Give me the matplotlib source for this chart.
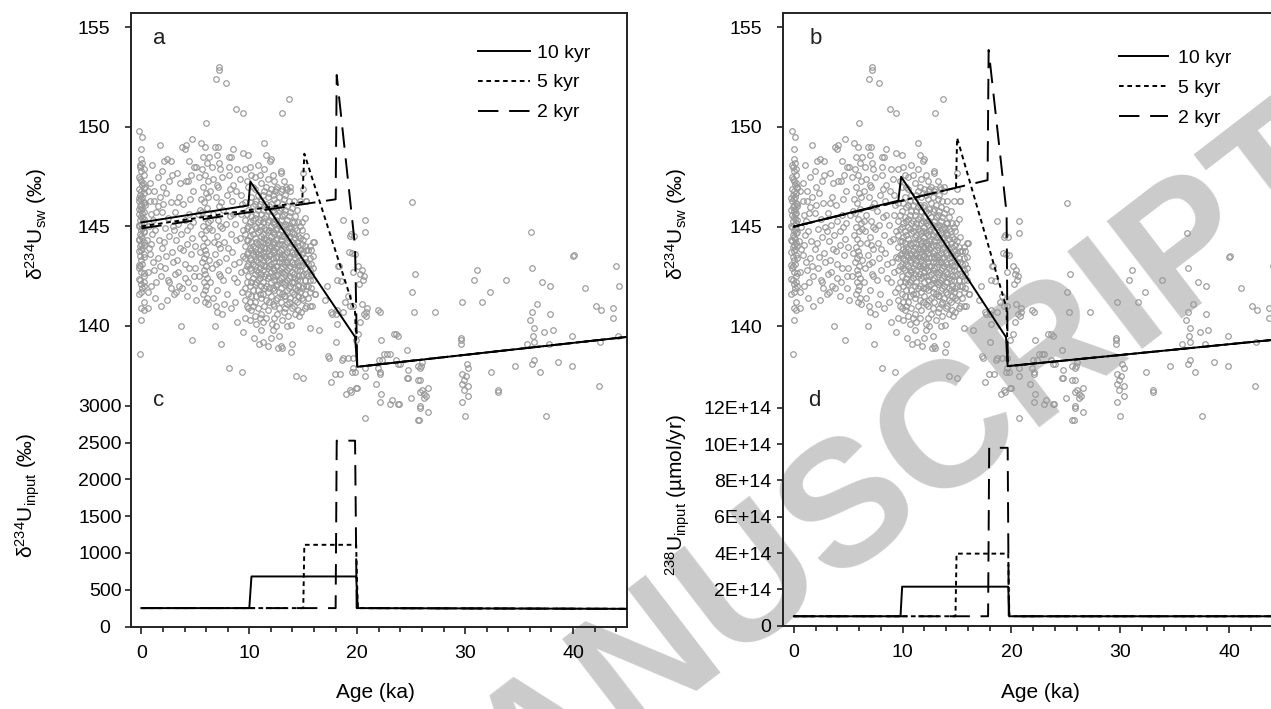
import matplotlib
matplotlib.use('Agg')
import matplotlib.pyplot as plt
from matplotlib.ticker import FixedLocator, MultipleLocator, FuncFormatter

plt.rcParams['font.family'] = ['Liberation Sans', 'DejaVu Sans']
plt.rcParams['mathtext.fontset'] = 'custom'
plt.rcParams['mathtext.rm'] = 'Liberation Sans'
plt.rcParams['mathtext.it'] = 'Liberation Sans:italic'

W, H = 1271, 709

# ---------------- data: measured d234U seawater (age ka, d234U permil) ----------------
pts_col0 = [(-0.2,149.8),(0.1,149.5),(0.0,148.9),(0.0,148.4),(0.1,148.2),(-0.1,148.0),(0.0,147.8),(0.2,147.6),
            (-0.1,147.4),(0.0,147.3),(0.1,147.1),(-0.2,146.9),(0.0,146.8),(0.2,146.7),(-0.1,146.6),(0.1,146.5),
            (0.0,146.4),(-0.2,146.3),(0.2,146.2),(0.0,146.1),(-0.1,146.0),(0.1,145.9),(0.0,145.8),(0.2,145.7),
            (-0.2,145.6),(0.0,145.5),(0.1,145.4),(-0.1,145.3),(0.2,145.2),(0.0,145.1),(-0.2,145.0),(0.1,144.9),
            (0.0,144.8),(0.2,144.7),(-0.1,144.6),(0.0,144.5),(0.1,144.4),(-0.2,144.3),(0.2,144.2),(0.0,144.1),
            (-0.1,144.0),(0.1,143.9),(0.0,143.8),(0.2,143.6),(-0.1,143.5),(0.0,143.3),(0.1,143.1),(-0.2,142.9),
            (0.0,142.7),(0.2,142.5),(-0.1,142.3),(0.0,142.1),(0.1,141.9),(0.0,141.7),(0.2,141.2),(0.0,140.9),
            (0.6,140.9),(0.2,140.8),(0.0,140.3),(-0.1,138.6),(0.6,141.7),(0.2,142.2),(-0.1,143.0),(0.1,145.65),
            (0.3,146.05),(0.3,147.0),(0.25,146.95),(-0.25,146.45),(0.25,146.15),(-0.25,145.85),(0.25,145.35),
            (-0.25,145.05),(0.25,144.75),(-0.25,144.35),(0.25,144.05),(-0.25,143.75),(0.25,143.45),
            (-0.25,143.05),(0.25,142.65),(-0.25,142.35),(0.25,142.0),(-0.25,141.6),(0.2,147.9),(-0.2,147.5),
            (0.15,147.2),(-0.15,148.1)]
pts_early = [(0.6,146.8),(0.8,147.2),(1.2,146.8),(1.2,146.3),(1.5,146.0),(1.7,149.1),(1.7,146.5),(1.9,145.7),
             (2.0,146.1),(2.1,148.3),(2.4,148.4),(2.75,148.3),(2.8,147.6),(2.5,145.4),(3.1,145.7),(3.3,146.2),
             (3.5,146.5),(3.8,149.0),(4.1,149.1),(4.0,148.9),(4.7,149.4),(4.3,147.3),(4.6,147.6),(4.9,148.0),
             (5.1,148.0),(0.7,145.0),(1.0,144.6),(1.3,144.8),(0.9,144.1),(1.6,144.3),(2.2,144.9),(2.6,144.5),
             (3.0,144.8),(3.4,145.1),(3.7,144.6),(4.0,145.3),(4.4,145.6),(4.8,145.2),(0.8,143.6),(1.1,143.2),
             (1.5,143.4),(1.9,143.9),(2.3,143.5),(2.8,143.7),(3.3,143.3),(3.9,143.8),(4.2,144.1),(4.6,143.6),
             (5.0,144.0),(0.6,142.7),(1.2,142.8),(1.8,142.5),(2.5,142.3),(2.6,142.2),(3.1,142.6),(3.5,142.0),
             (4.0,142.4),(4.4,142.9),(4.9,142.5),(1.3,141.4),(2.4,141.3),(3.0,141.6),(3.2,141.7),(4.2,141.5),
             (4.9,141.9),(5.1,141.3),(3.7,140.0),(4.7,139.3),(1.5,147.5),(2.0,147.0),(3.6,147.2),(4.1,147.3),
             (2.3,146.7),(3.9,146.1),(4.5,146.4),(0.9,145.6),(2.9,145.0),(4.2,144.8),
             (0.5,144.3),(0.7,143.9),(0.9,142.0),(1.1,145.3),(1.4,145.7),(1.4,142.2),(1.7,143.0),(1.8,141.0),
             (2.1,144.2),(2.2,142.9),(2.7,146.2),(2.7,141.9),(2.9,143.2),(3.2,144.3),(3.4,142.7),(3.6,143.9),
             (3.8,141.9),(4.0,143.1),(4.3,142.2),(4.5,145.0),(4.7,144.4),(4.8,146.8),(5.0,142.9),(5.2,145.6),
             (1.0,148.1),(0.8,146.3),(2.6,147.3),(3.3,147.7),(4.4,148.3),(1.9,147.8)]
pts_col6 = [(5.5,149.2),(5.9,148.97),(5.7,148.5),(6.1,148.2),(5.6,147.9),(5.9,147.6),(6.2,147.3),(5.7,147.0),
            (6.0,146.7),(5.5,146.4),(5.8,146.2),(6.1,145.9),(5.6,145.7),(5.9,145.4),(6.2,145.2),(5.7,145.0),
            (6.0,144.8),(5.5,144.6),(5.8,144.4),(6.1,144.2),(5.7,144.0),(5.9,143.8),(6.0,143.6),(5.8,143.4),
            (5.6,143.2),(6.0,143.0),(5.8,142.8),(5.9,142.6),(6.1,142.4),(5.8,142.2),(6.0,142.0),(5.9,141.8),
            (5.7,141.6),(6.1,141.4),(5.9,141.2),(6.2,141.1),(5.4,145.8),(6.3,144.9),(5.4,143.7),(6.3,143.3),
            (5.3,142.5),(6.2,146.5),(5.3,147.5)]
pts_mid = [(7.2,153.0),(7.2,152.85),(6.9,152.4),(7.8,152.2),(8.8,150.9),(9.4,150.7),(6.0,150.2),
           (6.8,149.0),(6.3,148.5),(7.0,148.6),(8.1,148.5),(8.3,148.5),(9.4,148.7),(6.5,148.0),(7.3,147.9),
           (8.1,148.0),(8.9,147.9),(8.1,147.6),(6.6,147.4),(7.0,147.1),(7.5,147.5),(8.5,147.1),(9.1,147.4),
           (6.4,146.8),(6.9,146.5),(7.4,146.2),(7.9,146.6),(8.4,146.3),(8.8,146.8),(9.3,146.1),(6.6,145.6),
           (7.1,145.3),(7.6,145.8),(8.2,145.5),(8.7,145.1),(9.2,145.6),(6.5,144.8),(7.0,144.5),(7.7,144.2),
           (8.3,144.6),(8.8,144.3),(9.4,144.8),(6.8,143.6),(7.3,143.9),(7.8,143.4),(8.4,143.7),(9.0,143.2),
           (6.5,142.9),(7.2,142.6),(7.6,142.3),(8.0,142.8),(8.6,142.4),(9.2,142.7),(6.6,141.4),(7.0,141.8),
           (7.9,141.6),(8.7,141.2),(9.3,141.7),(6.8,140.0),(7.4,139.1),(8.1,137.9),(9.3,137.7),(6.9,141.0),
           (7.5,140.6),(7.1,149.0),(7.2,148.2),(7.1,147.0),(7.2,146.0),(7.3,145.0),(7.1,144.1),(7.2,143.2),
           (7.3,142.5),(6.4,145.3),(6.7,144.2),(6.9,143.1),(7.5,144.9),(7.8,145.1),(8.0,143.9),(8.2,146.9),
           (8.5,145.6),(8.6,143.1),(8.9,142.2),(9.1,144.4),(9.2,146.6),(9.4,143.5),(6.4,142.2),(7.0,140.7),
           (7.7,141.1),(8.3,140.9),(8.9,140.2),(9.4,139.7),(8.5,148.9)]
pts_cloud = [
    (9.6,147.9),(9.6,146.2),(9.6,145.3),(9.6,144.6),(9.6,144.0),(9.6,143.4),(9.6,142.8),(9.6,141.9),(9.6,141.3),(9.6,140.4),
    (9.9,148.6),(9.9,147.0),(9.9,145.8),(9.9,145.0),(9.9,144.3),(9.9,143.7),(9.9,143.1),(9.9,142.5),(9.9,141.6),(9.9,140.9),
    (10.2,147.6),(10.2,146.5),(10.2,145.5),(10.2,144.8),(10.2,144.2),(10.2,143.8),(10.2,143.3),(10.2,142.8),(10.2,142.2),
    (10.2,141.5),(10.2,140.8),(10.4,139.4),
    (10.5,147.5),(10.5,146.9),(10.5,146.1),(10.5,145.4),(10.5,145.0),(10.5,144.4),(10.5,143.9),(10.5,143.5),(10.5,143.0),
    (10.5,142.6),(10.5,142.1),(10.5,141.2),(10.5,140.5),
    (10.8,148.1),(10.8,146.6),(10.8,145.8),(10.8,145.2),(10.8,144.7),(10.8,144.1),(10.8,143.6),(10.8,143.2),(10.8,142.7),
    (10.8,142.3),(10.8,141.8),(10.8,140.9),(10.9,139.1),
    (11.1,147.2),(11.1,146.3),(11.1,145.6),(11.1,145.0),(11.1,144.5),(11.1,144.0),(11.1,143.6),(11.1,143.1),(11.1,142.6),
    (11.1,142.0),(11.1,141.4),(11.1,140.6),(11.1,139.8),
    (11.4,149.2),(11.4,147.9),(11.4,146.8),(11.4,146.0),(11.4,145.4),(11.4,144.9),(11.4,144.4),(11.4,143.9),(11.4,143.5),
    (11.4,143.0),(11.4,142.5),(11.4,141.9),(11.4,141.0),(11.3,139.2),
    (11.7,147.4),(11.7,146.5),(11.7,145.8),(11.7,145.2),(11.7,144.7),(11.7,144.2),(11.7,143.8),(11.7,143.3),(11.7,142.9),
    (11.7,142.4),(11.7,141.7),(11.7,140.8),(11.75,139.0),
    (12.0,148.4),(11.9,148.3),(12.0,146.9),(12.0,146.1),(12.0,145.5),(12.0,145.0),(12.0,144.5),(12.0,144.0),(12.0,143.6),
    (12.0,143.1),(12.0,142.7),(12.0,142.2),(12.0,141.5),(12.1,140.1),(12.0,139.4),
    (12.3,147.3),(12.3,146.4),(12.3,145.7),(12.3,145.1),(12.3,144.6),(12.3,144.1),(12.3,143.7),(12.3,143.2),(12.3,142.8),
    (12.3,142.3),(12.3,141.8),(12.3,141.0),(12.3,140.4),
    (12.6,147.0),(12.6,146.2),(12.6,145.5),(12.6,144.9),(12.6,144.4),(12.6,144.0),(12.6,143.5),(12.6,143.0),(12.6,142.6),
    (12.6,142.1),(12.6,141.4),(12.6,140.6),(12.7,138.9),
    (12.9,147.8),(12.9,146.8),(12.9,145.9),(12.9,145.3),(12.9,144.8),(12.9,144.3),(12.9,143.8),(12.9,143.4),(12.9,142.9),
    (12.9,142.4),(12.9,141.9),(12.9,141.2),(12.9,139.0),
    (13.2,147.3),(13.2,146.4),(13.2,145.6),(13.2,145.0),(13.2,144.5),(13.2,144.0),(13.2,143.5),(13.2,143.1),(13.2,142.6),
    (13.2,142.1),(13.2,141.5),(13.2,140.7),(13.0,138.9),
    (13.5,146.9),(13.5,146.0),(13.5,145.3),(13.5,144.7),(13.5,144.2),(13.5,143.7),(13.5,143.2),(13.5,142.8),(13.5,142.3),
    (13.5,141.8),(13.5,141.1),(13.6,140.5),(13.5,140.0),
    (13.8,147.0),(13.8,145.7),(13.8,145.0),(13.8,144.5),(13.8,144.0),(13.8,143.5),(13.8,143.0),(13.8,142.5),(13.8,142.0),
    (13.8,141.4),(13.9,140.05),(13.9,138.7),
    (14.1,146.3),(14.1,145.2),(14.1,144.6),(14.1,144.1),(14.1,143.6),(14.1,143.1),(14.1,142.6),(14.1,142.2),(14.1,141.6),
    (14.1,141.0),(14.0,139.1),
    (14.4,145.8),(14.4,144.8),(14.4,144.2),(14.4,143.7),(14.4,143.2),(14.4,142.8),(14.4,142.3),(14.4,141.8),(14.4,141.2),
    (14.6,140.5),
    (14.7,146.3),(14.7,145.0),(14.7,144.4),(14.7,143.8),(14.7,143.3),(14.7,142.8),(14.7,142.3),(14.7,141.7),(14.8,140.7),
    (15.0,147.7),(15.0,146.9),(14.9,145.2),(15.0,144.3),(15.0,143.7),(15.0,143.2),(15.0,142.6),(15.0,142.0),(15.0,141.3),
    (15.3,146.3),(15.3,144.5),(15.3,143.8),(15.3,143.2),(15.3,142.6),(15.3,142.0),(15.3,141.0),
    (15.6,144.0),(15.6,143.4),(15.6,142.8),(15.6,142.3),(15.6,141.7),(15.6,141.0),(15.6,139.9),
    (15.9,144.2),(15.9,143.5),(15.9,142.9),(15.9,142.3),(15.8,141.0),(16.1,141.6),
    (12.9,147.7),(13.0,150.7),(13.7,151.4),(12.4,146.8),(13.0,146.9),(13.4,147.0),(13.8,146.8),(15.3,146.3),(13.9,144.9)]
pts_cloud2 = [
    (9.75,147.3),(9.75,145.6),(9.75,144.9),(9.75,144.3),(9.75,143.6),(9.75,143.0),(9.75,142.2),(9.75,141.0),
    (10.05,148.0),(10.05,146.2),(10.05,145.2),(10.05,144.5),(10.05,143.9),(10.05,143.4),(10.05,142.9),(10.05,142.0),
    (10.05,141.2),(10.05,140.3),
    (10.35,147.0),(10.35,146.0),(10.35,145.3),(10.35,144.6),(10.35,144.0),(10.35,143.6),(10.35,143.1),(10.35,142.4),
    (10.35,141.8),(10.35,141.0),
    (10.65,146.3),(10.65,145.6),(10.65,144.9),(10.65,144.2),(10.65,143.7),(10.65,143.3),(10.65,142.8),(10.65,142.2),
    (10.65,141.5),(10.65,140.1),
    (10.95,147.6),(10.95,146.1),(10.95,145.3),(10.95,144.8),(10.95,144.2),(10.95,143.8),(10.95,143.4),(10.95,142.9),
    (10.95,142.4),(10.95,141.6),(10.95,140.4),
    (11.25,146.6),(11.25,145.8),(11.25,145.2),(11.25,144.6),(11.25,144.2),(11.25,143.7),(11.25,143.3),(11.25,142.8),
    (11.25,142.2),(11.25,141.6),(11.25,140.2),
    (11.55,148.6),(11.55,147.0),(11.55,146.1),(11.55,145.5),(11.55,144.8),(11.55,144.3),(11.55,143.9),(11.55,143.4),
    (11.55,143.0),(11.55,142.6),(11.55,142.0),(11.55,141.3),(11.55,140.4),
    (11.85,146.7),(11.85,146.0),(11.85,145.3),(11.85,144.8),(11.85,144.3),(11.85,143.9),(11.85,143.5),(11.85,143.0),
    (11.85,142.5),(11.85,141.9),(11.85,141.2),
    (12.15,147.6),(12.15,146.6),(12.15,145.8),(12.15,145.2),(12.15,144.7),(12.15,144.2),(12.15,143.8),(12.15,143.4),
    (12.15,142.9),(12.15,142.5),(12.15,141.9),(12.15,141.1),(12.15,139.8),
    (12.45,146.9),(12.45,145.9),(12.45,145.3),(12.45,144.8),(12.45,144.3),(12.45,143.9),(12.45,143.4),(12.45,143.0),
    (12.45,142.5),(12.45,142.0),(12.45,141.3),(12.45,140.0),
    (12.75,146.5),(12.75,145.8),(12.75,145.1),(12.75,144.6),(12.75,144.1),(12.75,143.7),(12.75,143.2),(12.75,142.8),
    (12.75,142.3),(12.75,141.7),(12.75,140.9),(12.75,139.5),
    (13.05,146.1),(13.05,145.5),(13.05,145.0),(13.05,144.5),(13.05,144.1),(13.05,143.6),(13.05,143.2),(13.05,142.7),
    (13.05,142.2),(13.05,141.6),(13.05,140.3),
    (13.35,146.6),(13.35,145.8),(13.35,145.1),(13.35,144.6),(13.35,144.1),(13.35,143.6),(13.35,143.2),(13.35,142.7),
    (13.35,142.2),(13.35,141.5),(13.35,140.9),
    (13.65,146.3),(13.65,145.5),(13.65,144.9),(13.65,144.4),(13.65,143.9),(13.65,143.4),(13.65,142.9),(13.65,142.4),
    (13.65,141.9),(13.65,141.2),
    (13.95,145.9),(13.95,145.2),(13.95,144.7),(13.95,144.2),(13.95,143.7),(13.95,143.2),(13.95,142.7),(13.95,142.2),
    (13.95,141.7),(13.95,140.9),
    (14.25,145.5),(14.25,144.9),(14.25,144.4),(14.25,143.9),(14.25,143.4),(14.25,142.9),(14.25,142.4),(14.25,141.9),
    (14.25,141.3),(14.25,140.6),
    (14.55,145.2),(14.55,144.5),(14.55,144.0),(14.55,143.5),(14.55,143.0),(14.55,142.5),(14.55,142.0),(14.55,141.5),
    (14.55,140.8),
    (14.85,144.8),(14.85,144.1),(14.85,143.6),(14.85,143.0),(14.85,142.5),(14.85,141.9),(14.85,141.4),
    (15.15,145.4),(15.15,144.0),(15.15,143.4),(15.15,142.9),(15.15,142.3),(15.15,141.6),(15.15,140.9),
    (15.45,143.8),(15.45,143.1),(15.45,142.5),(15.45,142.0),(15.45,141.4),
    (15.75,143.8),(15.75,143.1),(15.75,142.6),(15.75,141.9)]
pts_deglac = [(16.0,144.2),(17.2,142.0),(18.1,142.3),(18.5,142.26),(18.2,143.0),(18.3,143.0),(18.7,145.3),
              (19.7,144.5),(19.35,144.5),(19.5,143.65),(19.2,143.7),(19.8,143.6),(19.6,142.7),(19.4,144.6),
              (20.1,143.0),(20.3,142.6),(20.5,142.3),(20.4,142.8),(20.6,142.5),(20.7,145.3),(20.7,144.7),
              (20.2,142.1),(17.7,140.6),(18.0,140.6),(18.1,140.8),(18.9,141.2),(19.3,141.0),(19.1,141.5),
              (19.6,141.0),(17.6,140.7),(18.1,140.1),(18.7,140.7),(20.4,141.1),(20.6,140.6),(20.3,140.2),
              (20.1,139.6),(19.9,139.3),(18.0,139.2),(17.3,138.5),(18.6,138.3),(19.1,138.4),(19.6,138.4),
              (19.6,137.9),(19.5,137.7),(18.4,137.6),(17.6,137.2),(17.4,138.4),(18.7,138.4),(19.3,136.8),
              (19.0,136.6),(19.9,136.9),(19.4,136.7),(20.0,136.9),(20.7,135.4),(20.7,137.5),(20.7,137.9),
              (17.0,141.3),(14.3,137.5),(15.0,137.4),(16.5,139.8),(17.9,137.6),(19.8,137.7),(16.1,141.6)]
pts_glacial = [(21.9,137.9),(22.1,137.6),(21.7,137.1),(22.2,136.6),(23.2,136.3),(23.8,136.1),(24.7,137.8),
               (24.7,137.4),(25.0,136.4),(25.8,137.3),(25.8,137.9),(25.8,136.0),(26.2,136.4),(26.4,136.5),
               (26.6,135.7),(25.8,136.7),(20.9,140.9),(20.85,140.7),(20.8,140.5),(22.1,140.7),(22.2,139.3),
               (22.8,138.6),(22.5,138.6),(23.0,138.6),(23.6,139.6),(23.4,139.6),(23.8,139.5),(24.6,138.8),
               (22.0,138.3),(22.3,138.3),(23.6,138.3),(23.8,138.1),(24.0,138.1),(22.1,137.7),(24.6,137.4),
               (25.6,137.3),(25.6,138.0),(22.1,136.2),(23.0,136.1),(23.9,136.1),(25.6,135.3),(25.4,142.6),
               (25.1,141.7),(25.3,140.7),(21.9,140.8),(25.1,146.2),(27.2,140.7),(36.1,144.7),(39.98,143.5),
               (40.05,143.55),(44.0,143.0),(44.3,142.0),(31.1,142.8),(30.8,142.3),(33.8,142.3),(32.3,141.7),
               (31.6,141.2),(29.7,141.2),(36.2,142.9),(37.1,142.2),(37.9,142.0),(41.1,141.9),(36.7,141.1),
               (36.2,140.7),(36.0,140.3),(37.9,140.6),(36.4,139.9),(37.3,139.7),(38.1,139.8),(36.3,139.5),
               (36.4,139.2),(35.7,139.1),(37.8,139.1),(39.9,139.5),(42.1,141.0),(42.6,140.8),(43.7,140.9),
               (43.7,140.4),(42.5,139.2),(29.6,139.3),(29.6,139.1),(29.6,139.4),(26.0,138.2),(25.9,138.0),
               (26.0,136.8),(26.6,136.9),(26.2,136.6),(25.8,135.9),(25.7,135.3),(30.2,138.1),(30.3,137.9),
               (29.7,137.6),(30.1,137.5),(29.9,137.3),(29.7,137.1),(29.9,136.8),(30.3,137.0),(30.3,136.5),
               (29.7,136.2),(30.0,135.5),(32.4,137.7),(33.0,136.8),(33.0,136.7),(34.6,138.0),(36.2,138.1),
               (36.4,138.3),(36.9,137.7),(38.6,138.2),(39.9,138.0),(42.4,137.0),(37.5,135.5),(44.2,139.5)]

groups = (pts_col0, pts_early, pts_col6, pts_mid, pts_cloud, pts_cloud2, pts_deglac, pts_glacial)
obs_age = [p[0] for grp in groups for p in grp]
obs_val = [p[1] for grp in groups for p in grp]

# ---------------- model curves ----------------
a10_x = [0, 9.9, 10.1, 19.8, 20.0, 45]
a10_y = [145.2, 146.05, 147.25, 139.45, 137.95, 139.45]
a5_x = [0, 14.9, 15.1, 19.8, 20.0, 45]
a5_y = [145.0, 146.22, 148.65, 140.7, 137.95, 139.45]
a2_x = [0, 18.0, 18.1, 19.8, 20.0, 45]
a2_y = [144.9, 146.36, 152.6, 144.0, 137.95, 139.45]
b10_x = [0, 9.6, 9.86, 19.5, 19.65, 45]
b10_y = [145.0, 146.3, 147.5, 139.45, 138.0, 139.37]
b5_x = [0, 14.9, 15.0, 19.55, 19.65, 45]
b5_y = [145.0, 146.95, 149.45, 140.9, 138.0, 139.37]
b2_x = [0, 17.8, 17.9, 19.55, 19.65, 45]
b2_y = [145.0, 147.33, 153.86, 145.67, 138.0, 139.37]
c10_x = [0, 10.0, 10.2, 19.9, 20.05, 45]
c10_y = [250, 250, 680, 680, 250, 240]
c5_x = [0, 15.0, 15.1, 19.9, 20.05, 45]
c5_y = [250, 250, 1110, 1110, 250, 240]
c2_x = [0, 18.0, 18.1, 19.8, 19.95, 45]
c2_y = [250, 250, 2525, 2525, 250, 240]
d10_x = [0, 9.8, 9.95, 19.7, 19.8, 45]
d10_y = [0.52e14, 0.52e14, 2.15e14, 2.15e14, 0.52e14, 0.52e14]
d5_x = [0, 14.85, 14.95, 19.7, 19.8, 45]
d5_y = [0.52e14, 0.52e14, 3.97e14, 3.97e14, 0.52e14, 0.52e14]
d2_x = [0, 17.85, 17.95, 19.65, 19.75, 45]
d2_y = [0.52e14, 0.52e14, 9.8e14, 9.8e14, 0.52e14, 0.52e14]

labels = ['10 kyr', '5 kyr', '2 kyr']
sw_ticks = [140, 145, 150, 155]
c_ticks = [0, 500, 1000, 1500, 2000, 2500, 3000]
d_ticks = [0, 2e14, 4e14, 6e14, 8e14, 10e14, 12e14]
x_ticks = [0, 10, 20, 30, 40]

# ---------------- styling ----------------
LW = 1.4
styles = [dict(color='black', lw=LW, ls='-'),
          dict(color='black', lw=LW, ls=(0, (2.4, 1.9))),
          dict(color='black', lw=LW, ls=(0, (10.5, 5.5)))]
SP = '#222222'
FS_T = 14
FS_L = 15

fig = plt.figure(figsize=(W / 100, H / 100), dpi=100)
fig.patch.set_facecolor('white')


def px(x, y):
    return x / W, 1 - y / H


def rect(l, t, r, b):
    return [l / W, 1 - b / H, (r - l) / W, (b - t) / H]


# watermark
fig.text(*px(1326, 150), 'ACCEPTED MANUSCRIPT', fontsize=129, fontweight='bold', color='#cbcbcb',
         rotation=37.5, rotation_mode='anchor', ha='right', va='center', zorder=-5)


def make_panel(r, ylim_top, ylim_bot, top_series, bot_series, bot_ticks, bot_fmt,
               top_pad, bot_pad, leg_anchor, leg_hl, leg_tp):
    axb = fig.add_axes(r)
    axb.patch.set_visible(False)
    axt = fig.add_axes(r, sharex=axb)
    axt.patch.set_visible(False)
    for s in axt.spines.values():
        s.set_visible(False)
    for s in axb.spines.values():
        s.set_color(SP)
        s.set_linewidth(1.4)
    axb.set_xlim(-1, 45)
    axb.set_ylim(*ylim_bot)
    axt.set_ylim(*ylim_top)

    axt.plot(obs_age, obs_val, ls='none', marker='o', ms=4.0, mfc='none', mec='#999999', mew=0.85, zorder=2)
    handles = []
    for (xs, ys), st, lab in zip(top_series, styles, labels):
        h, = axt.plot(xs, ys, zorder=3, label=lab, **st)
        handles.append(h)
    for (xs, ys), st in zip(bot_series, styles):
        axb.plot(xs, ys, zorder=3, **st)

    axt.xaxis.set_visible(False)
    axt.yaxis.set_major_locator(FixedLocator(sw_ticks))
    axt.tick_params(axis='y', direction='out', length=4, width=1.2, color=SP, labelsize=FS_T, pad=top_pad)
    axb.yaxis.set_major_locator(FixedLocator(bot_ticks))
    axb.yaxis.set_major_formatter(FuncFormatter(bot_fmt))
    axb.tick_params(axis='y', direction='out', length=4, width=1.2, color=SP, labelsize=FS_T, pad=bot_pad)
    axb.xaxis.set_major_locator(FixedLocator(x_ticks))
    axb.xaxis.set_minor_locator(MultipleLocator(2))
    axb.tick_params(axis='x', which='major', direction='out', length=4.8, width=1.2, color=SP,
                    labelsize=FS_T, pad=8.5)
    axb.tick_params(axis='x', which='minor', direction='out', length=3.4, width=1.2, color=SP)
    axt.legend(handles=handles, loc='upper left', bbox_to_anchor=leg_anchor, frameon=False,
               fontsize=FS_T, handlelength=leg_hl, handletextpad=leg_tp, labelspacing=0.63,
               borderpad=0, borderaxespad=0)
    return axt, axb


def fmt_c(v, pos):
    return '0  ' if v == 0 else '%d' % v


def fmt_d(v, pos):
    return '0' if v == 0 else '%dE+14' % round(v / 1e14)


rl = rect(130.6, 12.7, 627.0, 626.5)
make_panel(rl, (124.91, 155.73), (0, 8340),
           [(a10_x, a10_y), (a5_x, a5_y), (a2_x, a2_y)],
           [(c10_x, c10_y), (c5_x, c5_y), (c2_x, c2_y)],
           c_ticks, fmt_c, 10.8, 2.2, (0.70, 0.949), 2.67, 0.36)

rr = rect(783.0, 12.7, 1283.5, 625.7)
make_panel(rr, (124.98, 155.73), (0, 33.77e14),
           [(b10_x, b10_y), (b5_x, b5_y), (b2_x, b2_y)],
           [(d10_x, d10_y), (d5_x, d5_y), (d2_x, d2_y)],
           d_ticks, fmt_d, 10.7, 4.3, (0.671, 0.940), 2.55, 0.5)

for t, (x, y) in zip('abcd', [(159, 38), (816, 38), (159, 400), (814, 400)]):
    fig.text(*px(x, y), t, fontsize=16, ha='center', va='center', color='#222222')

ylab_sw = r'δ$^{\mathregular{234}}$U$_{\mathregular{sw}}$ (‰)'
ylab_c = r'δ$^{\mathregular{234}}$U$_{\mathregular{input}}$ (‰)'
ylab_d = r'$^{\mathregular{238}}$U$_{\mathregular{input}}$ (µmol/yr)'
fig.text(*px(36, 224), ylab_sw, rotation=90, fontsize=FS_L, ha='center', va='center')
fig.text(*px(28, 495), ylab_c, rotation=90, fontsize=FS_L, ha='center', va='center')
fig.text(*px(676, 224), ylab_sw, rotation=90, fontsize=FS_L, ha='center', va='center')
fig.text(*px(678, 495), ylab_d, rotation=90, fontsize=FS_L, ha='center', va='center')
fig.text(*px(375, 693), 'Age (ka)', fontsize=FS_L, ha='center', va='center')
fig.text(*px(1040, 693), 'Age (ka)', fontsize=FS_L, ha='center', va='center')

fig.savefig('out.png', dpi=100, facecolor='white')
